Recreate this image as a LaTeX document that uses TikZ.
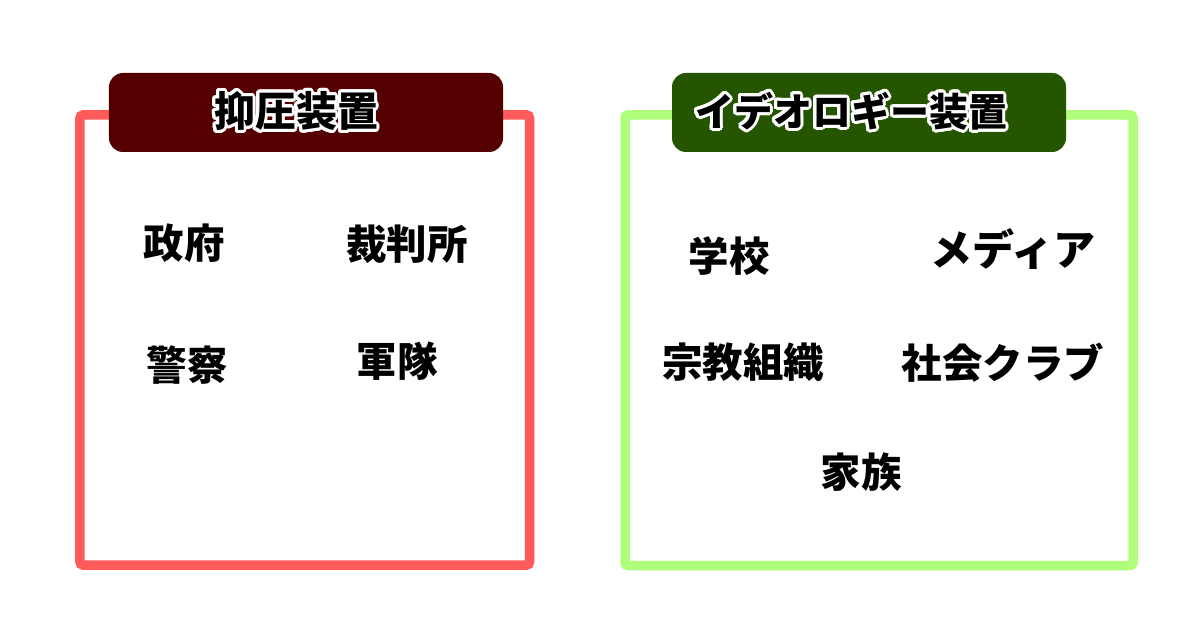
\documentclass[tikz,border=0pt]{standalone}
\usepackage{fontspec}
\setmainfont{Noto Sans CJK JP}
\usepackage{xcolor}
\usepackage{tikz}
\usepackage{contour}
\usetikzlibrary{positioning}
\contourlength{3bp}
\contournumber{24}
\definecolor{repred}{RGB}{255,90,90}
\definecolor{repdark}{RGB}{85,0,0}
\definecolor{idegreen}{RGB}{175,255,125}
\definecolor{idedark}{RGB}{38,85,0}
\tikzset{
    boxframe/.style={rectangle, draw, line width=9.5bp, rounded corners=3bp, inner sep=0pt},
    headtab/.style={rectangle, rounded corners=14bp, minimum width=394bp, minimum height=79bp, inner sep=0pt},
    headtext/.style={font=\fontsize{41bp}{48bp}\selectfont\bfseries, inner sep=0pt},
    item/.style={font=\fontsize{40.5bp}{48bp}\selectfont\bfseries, inner sep=0pt}
}

\begin{document}
\begin{tikzpicture}[x=1bp, y=-1bp]
    \useasboundingbox (0,0) rectangle (1200,628);

    % Repressive apparatus
    \node [boxframe, draw=repred, minimum width=449.5bp, minimum height=450bp] (repbox) at (304.75,340) {};
    \node [headtab, fill=repdark] (reptab) at (306,112.5) {};
    \node [headtext] (reptitle) at ([xshift=-10bp]reptab.center) {\contour{white}{抑圧装置}};

    \node [item] (gov) at (184,243) {政府};
    \node [item] (court) at (407,244) {裁判所};
    \node [item] (police) at (187,365) {警察};
    \node [item] (army) at (397,361) {軍隊};

    % Ideological apparatus
    \node [boxframe, draw=idegreen, minimum width=508bp, minimum height=450.5bp] (idebox) at (879,340.25) {};
    \node [headtab, fill=idedark] (idetab) at (869,112.5) {};
    \node [headtext, font=\fontsize{39bp}{46bp}\selectfont\bfseries] (idetitle) at ([xshift=-18bp]idetab.center) {\contour{white}{イデオロギー装置}};

    \node [item] (school) at (729,256) {学校};
    \node [item, font=\fontsize{42bp}{48bp}\selectfont\bfseries] (media) at (1013,249) {メディア};
    \node [item] (religion) at (743,362) {宗教組織};
    \node [item] (club) at (1003,363) {社会クラブ};
    \node [item] (family) at (861,472) {家族};
\end{tikzpicture}
\end{document}
